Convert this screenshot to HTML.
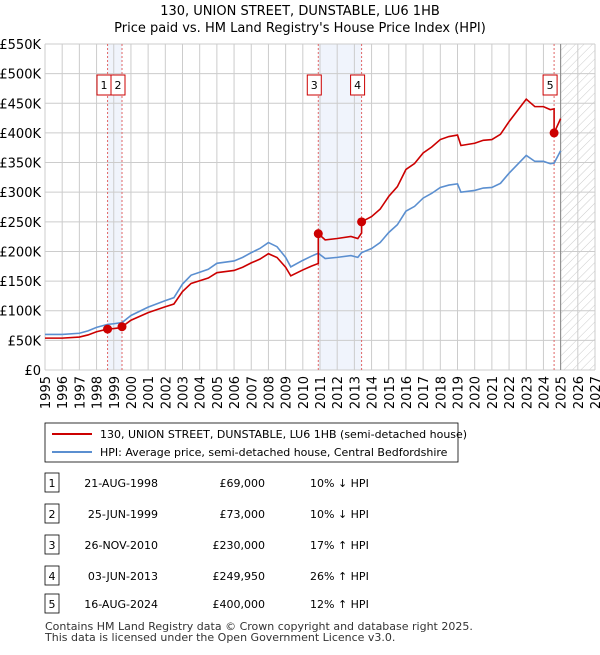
<!DOCTYPE html>
<html><head><meta charset="utf-8"><style>
body{margin:0;background:#fff;font-family:"Liberation Sans","DejaVu Sans",sans-serif;}
svg text{font-family:"DejaVu Sans","Liberation Sans",sans-serif;}
</style></head><body>
<svg id="c" width="600" height="650" xmlns="http://www.w3.org/2000/svg">
<defs><pattern id="hatch" width="6" height="6" patternUnits="userSpaceOnUse" patternTransform="rotate(45)"><line x1="0" y1="0" x2="0" y2="6" stroke="#ccc" stroke-width="1"/></pattern></defs>
<text x="300" y="15" text-anchor="middle" font-size="13">130, UNION STREET, DUNSTABLE, LU6 1HB</text>
<text x="300" y="32" text-anchor="middle" font-size="13">Price paid vs. HM Land Registry's House Price Index (HPI)</text>
<g id="plot"></g>
<rect x="45" y="423" width="413" height="39" fill="#fff" stroke="#000" stroke-width="0.8"/>
<line x1="52" y1="434" x2="92" y2="434" stroke="#cc0000" stroke-width="2"/>
<text x="100" y="438" font-size="11">130, UNION STREET, DUNSTABLE, LU6 1HB (semi-detached house)</text>
<line x1="52" y1="452" x2="92" y2="452" stroke="#5b8fd0" stroke-width="2"/>
<text x="100" y="456" font-size="11">HPI: Average price, semi-detached house, Central Bedfordshire</text>
<g id="table"></g>
<text x="45" y="630" font-size="11" fill="#333">Contains HM Land Registry data © Crown copyright and database right 2025.</text>
<text x="45" y="641" font-size="11" fill="#333">This data is licensed under the Open Government Licence v3.0.</text>
</svg>
<script>
const hpiYears=[1995,1996,1997,1997.5,1998,1998.64,1999,1999.48,2000,2001,2002,2002.5,2003,2003.5,2004,2004.5,2005,2006,2006.5,2007,2007.5,2008,2008.5,2009,2009.3,2010,2010.5,2010.9,2011.3,2012,2012.8,2013.2,2013.42,2014,2014.5,2015,2015.5,2016,2016.5,2017,2017.5,2018,2018.5,2019,2019.2,2020,2020.5,2021,2021.5,2022,2022.5,2023,2023.5,2024,2024.4,2024.62,2025];
const hpiValues=[60,60,62,66,72,77,78,80,92,106,117,122,145,160,165,170,180,184,190,198,205,215,208,190,174,185,192,197,188,190,193,190,198,205,215,232,245,268,276,290,298,308,312,314,300,303,307,308,315,332,347,362,352,352,348,349,370];
const saleYears=[1998.64,1999.48,2010.9,2013.42,2024.62];
const salePrices=[69,73,230,249.95,400];
const saleLabels=["1","2","3","4","5"];
const yTicks=[0,50,100,150,200,250,300,350,400,450,500,550];
const yTickLabels=["£0","£50K","£100K","£150K","£200K","£250K","£300K","£350K","£400K","£450K","£500K","£550K"];
const xTicks=[1995,1996,1997,1998,1999,2000,2001,2002,2003,2004,2005,2006,2007,2008,2009,2010,2011,2012,2013,2014,2015,2016,2017,2018,2019,2020,2021,2022,2023,2024,2025,2026,2027];
const tDates=["21-AUG-1998","25-JUN-1999","26-NOV-2010","03-JUN-2013","16-AUG-2024"];
const tPrices=["£69,000","£73,000","£230,000","£249,950","£400,000"];
const tHpi=["10% ↓ HPI","10% ↓ HPI","17% ↑ HPI","26% ↑ HPI","12% ↑ HPI"];

const X0=45,X1=595,Y0=370,Y1=44;
const xs=y=>X0+(y-1995)/(2027-1995)*(X1-X0);
const ys=v=>Y0-v/550*(Y0-Y1);
const NS="http://www.w3.org/2000/svg";
const plot=document.getElementById('plot');
function mk(tag,at,parent){const e=document.createElementNS(NS,tag);for(const k in at)e.setAttribute(k,at[k]);(parent||plot).appendChild(e);return e;}
function hpiAt(t){for(let i=0;i<hpiYears.length-1;i++){if(t>=hpiYears[i]&&t<=hpiYears[i+1]){const f=(t-hpiYears[i])/(hpiYears[i+1]-hpiYears[i]);return hpiValues[i]+f*(hpiValues[i+1]-hpiValues[i]);}}return hpiValues[hpiValues.length-1];}

let e=mk('rect',{x:xs(saleYears[0]),y:Y1,width:xs(saleYears[1])-xs(saleYears[0]),height:Y0-Y1,fill:'#f0f4fc'});

e=mk('rect',{x:xs(saleYears[2]),y:Y1,width:xs(saleYears[3])-xs(saleYears[2]),height:Y0-Y1,fill:'#f0f4fc'});

e=mk('rect',{x:xs(2025),y:Y1,width:X1-xs(2025),height:Y0-Y1,fill:'url(#hatch)'});

yTicks.forEach((v,i)=>{
 let l=mk('line',{x1:X0,x2:X1,y1:ys(v),y2:ys(v),stroke:'#ccc','stroke-width':1});
 
 let t=mk('text',{x:X0-4,y:ys(v)+5,'text-anchor':'end','font-size':13});t.textContent=yTickLabels[i];
 
});
xTicks.forEach(y=>{
 let l=mk('line',{x1:xs(y),x2:xs(y),y1:Y1,y2:Y0,stroke:'#ccc','stroke-width':1});
 
 let t=mk('text',{x:0,y:0,'text-anchor':'end','font-size':13,transform:`translate(${xs(y)+5},${Y0+6}) rotate(-90)`});t.textContent=y;
 
});
e=mk('line',{x1:xs(2025),x2:xs(2025),y1:Y1,y2:Y0,stroke:'#888','stroke-width':1});

saleYears.forEach((s,i)=>{
 let l=mk('line',{x1:xs(s),x2:xs(s),y1:Y1,y2:Y0,stroke:'#e06666','stroke-width':1,'stroke-dasharray':'2,2'});
 
});
e=mk('polyline',{points:hpiYears.map((y,i)=>xs(y)+','+ys(hpiValues[i])).join(' '),fill:'none',stroke:'#5b8fd0','stroke-width':1.6});

let pts=[];
const bounds=[1995,...saleYears,2025];
for(let k=0;k<bounds.length-1;k++){
 const a=bounds[k],b=bounds[k+1];const si=Math.max(0,k-1);
 const ratio=salePrices[si]/hpiAt(saleYears[si]);
 const seg=[a,...hpiYears.filter(y=>y>a&&y<b),b];
 seg.forEach(t=>pts.push(xs(t)+','+ys(hpiAt(t)*ratio)));
}
e=mk('polyline',{points:pts.join(' '),fill:'none',stroke:'#cc0000','stroke-width':1.6});

saleYears.forEach((s,i)=>{
 let c=mk('circle',{cx:xs(s),cy:ys(salePrices[i]),r:4.5,fill:'#cc0000'});
 
 const bx=(i==0)?xs(saleYears[1])-25:xs(s)-11;
 let r=mk('rect',{x:bx,y:75,width:14,height:20,fill:'#fff',stroke:'#cc0000','stroke-width':1});
 
 let t=mk('text',{x:bx+7,y:89,'text-anchor':'middle','font-size':11});t.textContent=saleLabels[i];
 
});
const tb=document.getElementById('table');
const rowY=[483,514,545,576,604];
tDates.forEach((d,i)=>{
 const y=rowY[i];
 let r=mk('rect',{x:45,y:y-10,width:14,height:19,fill:'#fff',stroke:'#000','stroke-width':0.8},tb);
 
 let t=mk('text',{x:52,y:y+4,'text-anchor':'middle','font-size':11},tb);t.textContent=saleLabels[i];
 
 t=mk('text',{x:158,y:y+4,'text-anchor':'end','font-size':11},tb);t.textContent=d;
 
 t=mk('text',{x:265,y:y+4,'text-anchor':'end','font-size':11},tb);t.textContent=tPrices[i];
 
 t=mk('text',{x:310,y:y+4,'font-size':11},tb);t.textContent=tHpi[i];
 
});
</script>
</body></html>
